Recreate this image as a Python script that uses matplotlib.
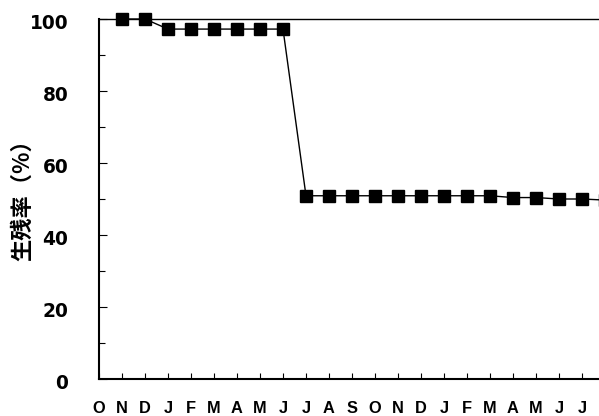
import matplotlib
matplotlib.use("Agg")
import matplotlib.pyplot as plt
import matplotlib.transforms as mtransforms
from matplotlib.ticker import MultipleLocator, FixedLocator

# Survey months (October through July of the second year)
months = ["O", "N", "D", "J", "F", "M", "A", "M", "J", "J", "A",
          "S", "O", "N", "D", "J", "F", "M", "A", "M", "J", "J"]

# Survival rate (%) at each monthly survey, starting from November
survey_index = list(range(1, 23))
survival = [100.0, 100.0, 97.2, 97.2, 97.2, 97.2, 97.2, 97.2,
            50.9, 50.9, 50.9, 50.9, 50.9, 50.9, 50.9, 50.9, 50.9,
            50.4, 50.4, 50.0, 50.0, 49.7]

fig = plt.figure(figsize=(5.99, 4.16), dpi=100)
ax = fig.add_axes([99 / 599, 37 / 416, 512.9 / 599, 360 / 416])

ax.plot(survey_index, survival, color="black", lw=1.0,
        marker="s", markersize=8.6, markerfacecolor="black",
        markeredgecolor="black", clip_on=False, zorder=3)

ax.set_xlim(0, 22.3)
ax.set_ylim(0, 100)

ax.xaxis.set_major_locator(FixedLocator(range(len(months))))
ax.set_xticklabels(months)
ax.yaxis.set_major_locator(MultipleLocator(20))
ax.yaxis.set_minor_locator(MultipleLocator(10))

ax.tick_params(axis="x", which="major", direction="in", length=4.3,
               width=0.8, pad=16.0)
ax.tick_params(axis="y", which="major", direction="in", length=6.0,
               width=0.8, pad=22.0)
ax.tick_params(axis="y", which="minor", direction="in", length=4.5,
               width=0.8)

for lab in ax.get_xticklabels():
    lab.set_fontfamily("Liberation Sans")
    lab.set_fontweight("bold")
    lab.set_fontsize(11.8)

shift = mtransforms.ScaledTranslation(0, -2.5 / 100, fig.dpi_scale_trans)
for lab in ax.get_yticklabels():
    lab.set_fontfamily("DejaVu Sans")
    lab.set_fontweight("bold")
    lab.set_fontsize(13.4)
    lab.set_transform(lab.get_transform() + shift)

for side in ("left", "bottom"):
    ax.spines[side].set_linewidth(1.5)
ax.spines["top"].set_linewidth(1.0)
ax.spines["right"].set_visible(False)

fig.text(23 / 599, 1 - 195 / 416, "生残率（%）", rotation=90,
         ha="center", va="center", fontsize=16, fontweight="bold",
         family=["Noto Sans CJK JP", "DejaVu Sans"])

fig.savefig("out.png", dpi=100)
